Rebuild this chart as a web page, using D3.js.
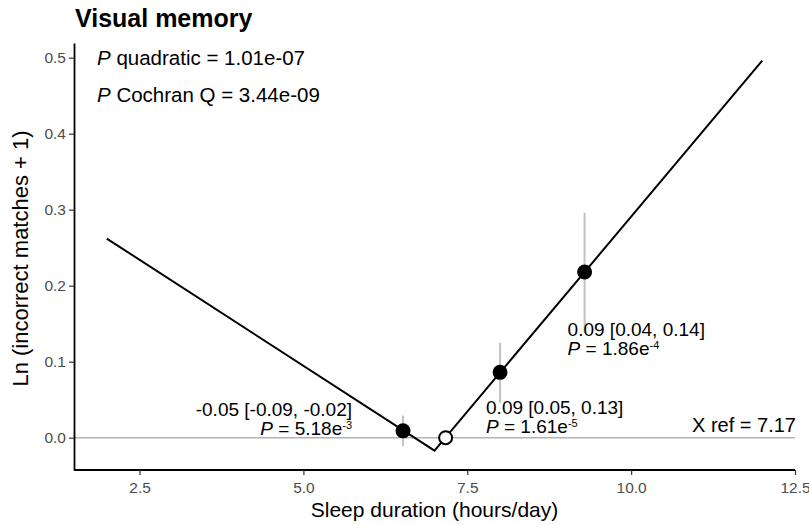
<!DOCTYPE html>
<html>
<head>
<meta charset="utf-8">
<script src="https://cdn.jsdelivr.net/npm/d3@7"></script>
<style>
  body { margin: 0; background: #fff; }
  text { font-family: "Liberation Sans", Arial, sans-serif; }
</style>
</head>
<body>
<svg id="chart" width="809" height="525"></svg>
<script>
// ---- data ----
const lineX = [2.0, 7.0, 12.0];
const lineY = [0.262, -0.017, 0.496];
const pointX = [6.52, 7.17, 8.0, 9.29];
const pointY = [0.009, 0.0, 0.086, 0.218];
const pointLo = [-0.011, null, 0.046, 0.138];
const pointHi = [0.029, null, 0.125, 0.296];
const pointFilled = [true, false, true, true];
const estLabels = ["-0.05 [-0.09, -0.02]", null, "0.09 [0.05, 0.13]", "0.09 [0.04, 0.14]"];
const pMant = ["5.18", null, "1.61", "1.86"];
const pExp = ["-3", null, "-5", "-4"];
const xTicks = [2.5, 5.0, 7.5, 10.0, 12.5];
const yTicks = [0.0, 0.1, 0.2, 0.3, 0.4, 0.5];
const xRef = 7.17;
const title = "Visual memory";
const stats = [["quadratic = 1.01e-07"], ["Cochran Q = 3.44e-09"]];

// ---- layout ----
const svg = d3.select("#chart");
const mL = 74, mR = 795, mT = 43, mB = 470;
const x = d3.scaleLinear().domain([1.5, 12.5]).range([mL, mR]);
const y = d3.scaleLinear().domain([-0.0425, 0.5193]).range([mB, mT]);

// reference line
svg.append("line")
  .attr("x1", mL).attr("x2", mR)
  .attr("y1", y(0)).attr("y2", y(0))
  .attr("stroke", "#b3b3b3").attr("stroke-width", 1.5);

// axes
const xAxis = d3.axisBottom(x).tickValues(xTicks).tickFormat(d3.format(".1f")).tickSize(5).tickSizeOuter(0);
const gx = svg.append("g").attr("transform", `translate(0,${mB})`).call(xAxis);
const yAxis = d3.axisLeft(y).tickValues(yTicks).tickFormat(d3.format(".1f")).tickSize(5).tickSizeOuter(0);
const gy = svg.append("g").attr("transform", `translate(${mL},0)`).call(yAxis);
[gx, gy].forEach(g => {
  g.select(".domain").attr("stroke", "#000").attr("stroke-width", 1.8);
  g.selectAll(".tick line").attr("stroke", "#333").attr("stroke-width", 1.2);
  g.selectAll(".tick text").attr("fill", "#4d4d4d").style("font-size", "15.5px")
    .style("font-family", "'Liberation Sans', Arial, sans-serif");
});
gx.selectAll(".tick text").attr("y", 12).attr("dy", "0.71em");
gy.selectAll(".tick text").attr("x", -8);
gx.select(".domain").attr("d", `M${mL},0H${mR}`);

// axis titles
svg.append("text").attr("x", (mL + mR) / 2).attr("y", 517)
  .attr("text-anchor", "middle").style("font-size", "21px").text("Sleep duration (hours/day)");
svg.append("text").attr("transform", `translate(28,${(mT + mB) / 2 + 2}) rotate(-90)`)
  .attr("text-anchor", "middle").style("font-size", "22px").text("Ln (incorrect matches + 1)");

// title
svg.append("text").attr("x", 75).attr("y", 27).style("font-size", "25px").style("font-weight", "bold").text(title);

// stats text
stats.forEach((s, i) => {
  const t = svg.append("text").attr("x", 97).attr("y", 65 + i * 37).style("font-size", "20.5px");
  t.append("tspan").style("font-style", "italic").text("P");
  t.append("tspan").text(" " + s[0]);
});

// fitted line
svg.append("path")
  .datum(lineX.map((d, i) => [d, lineY[i]]))
  .attr("d", d3.line().x(d => x(d[0])).y(d => y(d[1])))
  .attr("fill", "none").attr("stroke", "#000").attr("stroke-width", 2);

// error bars
pointX.forEach((px, i) => {
  if (pointLo[i] == null) return;
  svg.append("line").attr("x1", x(px)).attr("x2", x(px))
    .attr("y1", y(pointLo[i])).attr("y2", y(pointHi[i]))
    .attr("stroke", "#c2c2c2").attr("stroke-width", 2);
});

// points
pointX.forEach((px, i) => {
  svg.append("circle").attr("cx", x(px)).attr("cy", y(pointY[i])).attr("r", 6.5)
    .attr("fill", pointFilled[i] ? "#000" : "#fff")
    .attr("stroke", "#000").attr("stroke-width", 2);
});

// point labels
const labelPos = [
  { anchor: "end", dx: -51, dy: -15 },
  null,
  { anchor: "start", dx: -14, dy: 42 },
  { anchor: "start", dx: -17, dy: 64 }
];
pointX.forEach((px, i) => {
  const lp = labelPos[i];
  if (!lp) return;
  const bx = x(px) + lp.dx, by = y(pointY[i]) + lp.dy;
  svg.append("text").attr("x", bx).attr("y", by).attr("text-anchor", lp.anchor)
    .style("font-size", "19px").text(estLabels[i]);
  const t = svg.append("text").attr("x", bx).attr("y", by + 19).attr("text-anchor", lp.anchor)
    .style("font-size", "19px");
  t.append("tspan").style("font-style", "italic").text("P");
  t.append("tspan").text(" = " + pMant[i] + "e");
  t.append("tspan").attr("dy", -6).style("font-size", "11px").text(pExp[i]);
});

// X ref label
svg.append("text").attr("x", mR + 1).attr("y", y(0) - 6).attr("text-anchor", "end")
  .style("font-size", "20px").text("X ref = " + xRef.toFixed(2));
</script>
</body>
</html>
